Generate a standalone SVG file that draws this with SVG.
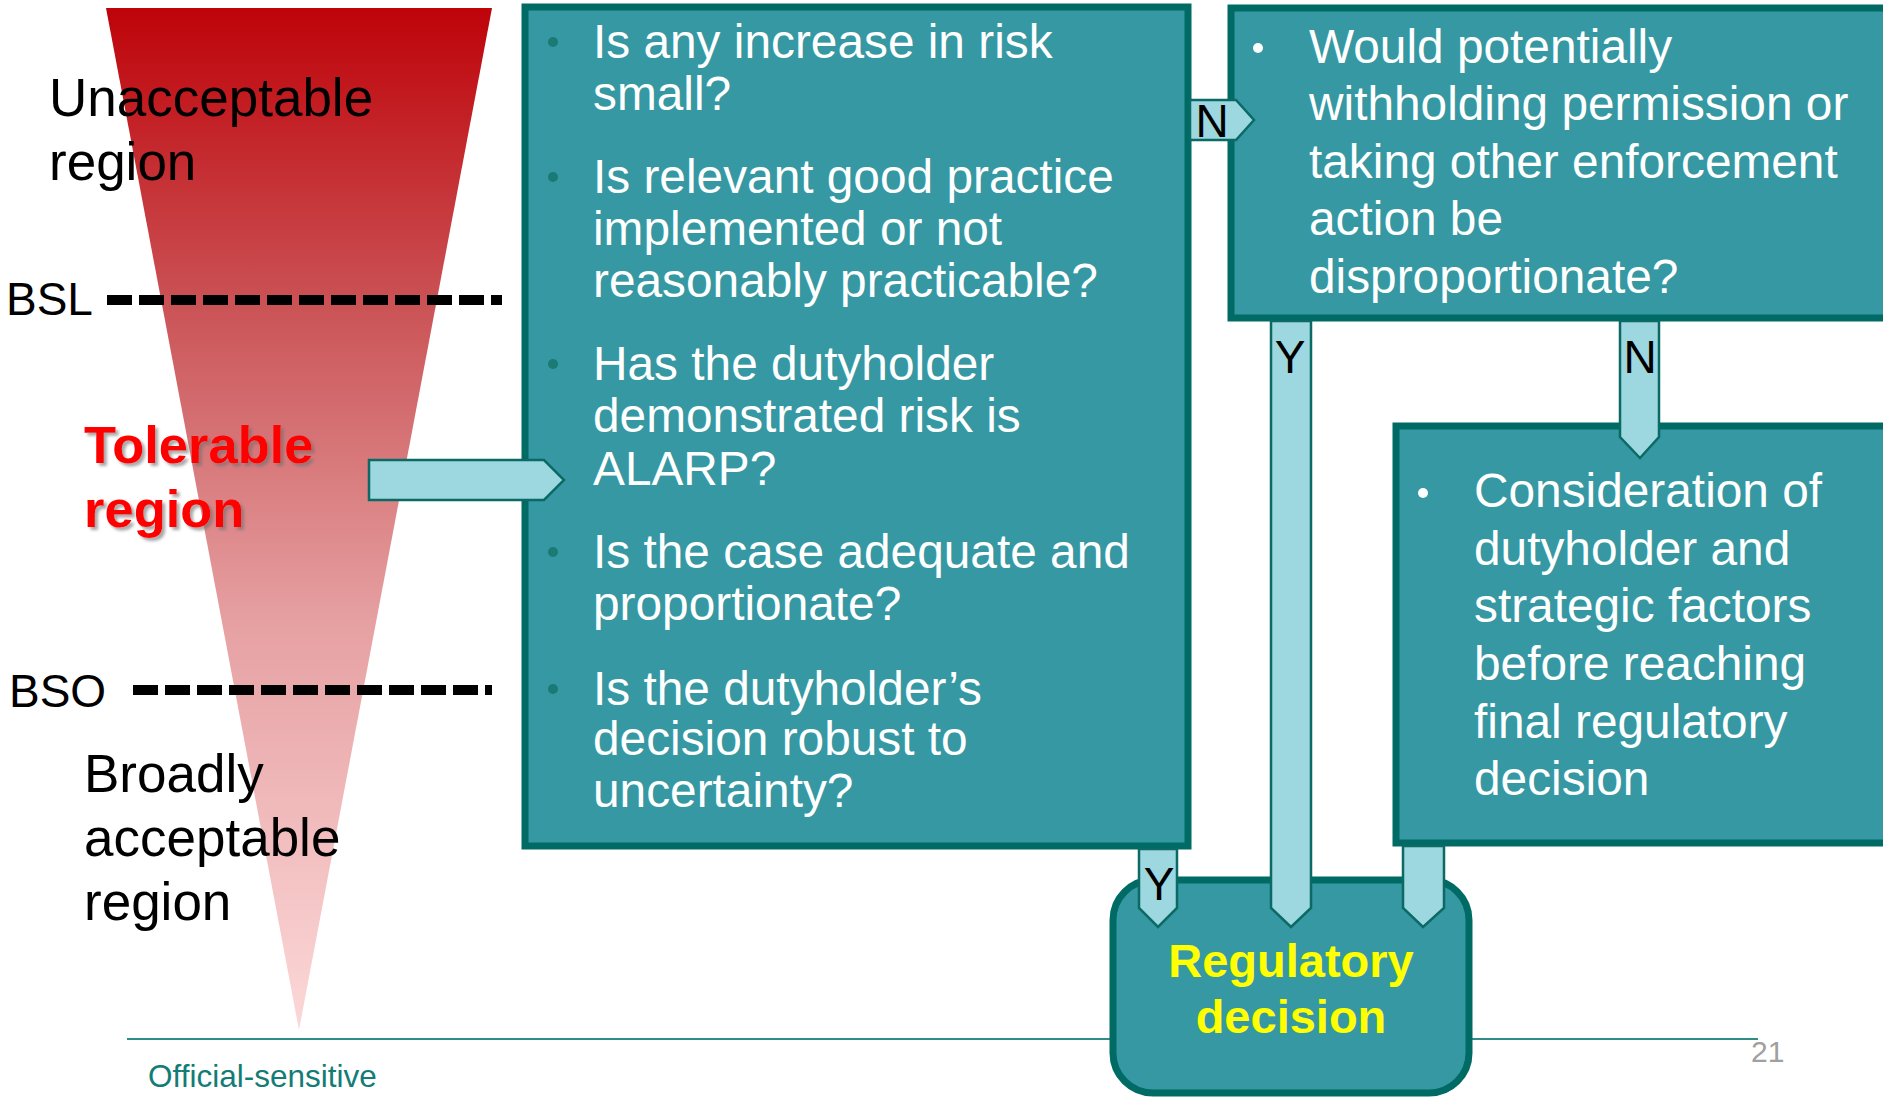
<svg xmlns="http://www.w3.org/2000/svg" width="1883" height="1098" viewBox="0 0 1883 1098">
  <defs>
    <linearGradient id="riskGrad" x1="0" y1="0" x2="0" y2="1">
      <stop offset="0" stop-color="#BE0309"/>
      <stop offset="0.3" stop-color="#CB5558"/>
      <stop offset="0.6" stop-color="#E6A0A2"/>
      <stop offset="1" stop-color="#FCD8D8"/>
    </linearGradient>
    <filter id="redShadow" x="-10%" y="-20%" width="130%" height="150%">
      <feDropShadow dx="3" dy="3" stdDeviation="1.5" flood-color="#6E6E6E" flood-opacity="0.6"/>
    </filter>
    <style>
      .lbl { font-family: "Liberation Sans", Arial, sans-serif; fill: #000; }
      .big { font-size: 53px; }
      .lvl { font-size: 46px; }
      .dash { stroke: #000; stroke-width: 10; stroke-dasharray: 25 7; fill: none; }
      .box { fill: #3598A3; stroke: #006A64; stroke-width: 7; }
      .txt { font-family: "Liberation Sans", Arial, sans-serif; font-size: 47.8px; fill: #FFFFFF; }
      .conn { fill: #9DD7DF; stroke: #0B6A64; stroke-width: 2.5; stroke-linejoin: miter; }
      .yn { font-family: "Liberation Sans", Arial, sans-serif; font-size: 46px; fill: #000; text-anchor: middle; }
      .red { font-family: "Liberation Sans", Arial, sans-serif; font-weight: bold; font-size: 52.5px; fill: #FF0000; }
      .yel { font-family: "Liberation Sans", Arial, sans-serif; font-weight: bold; font-size: 47px; fill: #FFFF00; text-anchor: middle; }
    </style>
  </defs>

  <rect width="1883" height="1098" fill="#FFFFFF"/>

  <!-- risk triangle -->
  <g id="risk-triangle">
    <polygon points="106,8 492,8 299,1030" fill="url(#riskGrad)"/>
  </g>

  <!-- region labels -->
  <g id="unacceptable-region">
    <text class="lbl big" x="49" y="116">Unacceptable</text>
    <text class="lbl big" x="49" y="180">region</text>
  </g>
  <g id="bsl">
    <text class="lbl lvl" x="6" y="315">BSL</text>
    <line class="dash" x1="107" y1="300" x2="502" y2="300"/>
  </g>
  <g id="tolerable-region" filter="url(#redShadow)">
    <text class="red" x="84" y="463">Tolerable</text>
    <text class="red" x="84" y="527">region</text>
  </g>
  <g id="bso">
    <text class="lbl lvl" x="9" y="707">BSO</text>
    <line class="dash" x1="133" y1="690" x2="492" y2="690"/>
  </g>
  <g id="broadly-acceptable-region">
    <text class="lbl big" x="84" y="792">Broadly</text>
    <text class="lbl big" x="84" y="856">acceptable</text>
    <text class="lbl big" x="84" y="920">region</text>
  </g>

  <!-- footer -->
  <g id="footer">
    <line x1="127" y1="1039" x2="1758" y2="1039" stroke="#2F8C88" stroke-width="2"/>
    <text x="148" y="1087" font-family="Liberation Sans, Arial, sans-serif" font-size="31.5" fill="#137C76">Official-sensitive</text>
    <text x="1751" y="1062" font-family="Liberation Sans, Arial, sans-serif" font-size="30" fill="#A0A0A0">21</text>
  </g>

  <!-- question box -->
  <g id="alarp-questions">
    <rect class="box" x="525" y="7" width="663" height="839"/>
    <g fill="#1B7A74">
      <circle cx="553" cy="42" r="5"/>
      <circle cx="553" cy="177" r="5"/>
      <circle cx="553" cy="364" r="5"/>
      <circle cx="553" cy="552" r="5"/>
      <circle cx="553" cy="689" r="5"/>
    </g>
    <text class="txt" x="593" y="58">Is any increase in risk</text>
    <text class="txt" x="593" y="110">small?</text>
    <text class="txt" x="593" y="193">Is relevant good practice</text>
    <text class="txt" x="593" y="245">implemented or not</text>
    <text class="txt" x="593" y="297">reasonably practicable?</text>
    <text class="txt" x="593" y="380">Has the dutyholder</text>
    <text class="txt" x="593" y="432">demonstrated risk is</text>
    <text class="txt" x="593" y="485">ALARP?</text>
    <text class="txt" x="593" y="568">Is the case adequate and</text>
    <text class="txt" x="593" y="620">proportionate?</text>
    <text class="txt" x="593" y="705">Is the dutyholder’s</text>
    <text class="txt" x="593" y="755">decision robust to</text>
    <text class="txt" x="593" y="807">uncertainty?</text>
  </g>

  <!-- enforcement box -->
  <g id="enforcement-question">
    <rect class="box" x="1231" y="8" width="670" height="310"/>
    <circle cx="1258" cy="48" r="5" fill="#FFFFFF"/>
    <text class="txt" x="1309" y="63">Would potentially</text>
    <text class="txt" x="1309" y="120">withholding permission or</text>
    <text class="txt" x="1309" y="178">taking other enforcement</text>
    <text class="txt" x="1309" y="235">action be</text>
    <text class="txt" x="1309" y="293">disproportionate?</text>
  </g>

  <!-- consideration box -->
  <g id="strategic-factors">
    <rect class="box" x="1396" y="426" width="500" height="417"/>
    <circle cx="1423" cy="493" r="5" fill="#FFFFFF"/>
    <text class="txt" x="1474" y="507">Consideration of</text>
    <text class="txt" x="1474" y="565">dutyholder and</text>
    <text class="txt" x="1474" y="622">strategic factors</text>
    <text class="txt" x="1474" y="680">before reaching</text>
    <text class="txt" x="1474" y="738">final regulatory</text>
    <text class="txt" x="1474" y="795">decision</text>
  </g>

  <!-- decision box -->
  <g id="regulatory-decision">
    <rect class="box" x="1113" y="880" width="356" height="213" rx="40" ry="40" stroke-width="6"/>
    <text class="yel" x="1291" y="977">Regulatory</text>
    <text class="yel" x="1291" y="1033">decision</text>
  </g>

  <!-- connectors -->
  <g id="connectors">
    <polygon class="conn" points="369,460 544,460 564,480 544,500 369,500"/>
    <polygon class="conn" points="1190,100 1236,100 1254,120 1236,140 1190,140"/>
    <text class="yn" x="1212" y="137">N</text>
    <polygon class="conn" points="1271,321 1311,321 1311,908 1291,927 1271,908"/>
    <text class="yn" x="1290" y="373">Y</text>
    <polygon class="conn" points="1620,321 1659,321 1659,437 1640,458 1620,437"/>
    <text class="yn" x="1640" y="373">N</text>
    <polygon class="conn" points="1139,849 1177,849 1177,908 1158,927 1139,908"/>
    <text class="yn" x="1159" y="900">Y</text>
    <polygon class="conn" points="1403,846 1444,846 1444,908 1423,927 1403,908"/>
  </g>
</svg>
